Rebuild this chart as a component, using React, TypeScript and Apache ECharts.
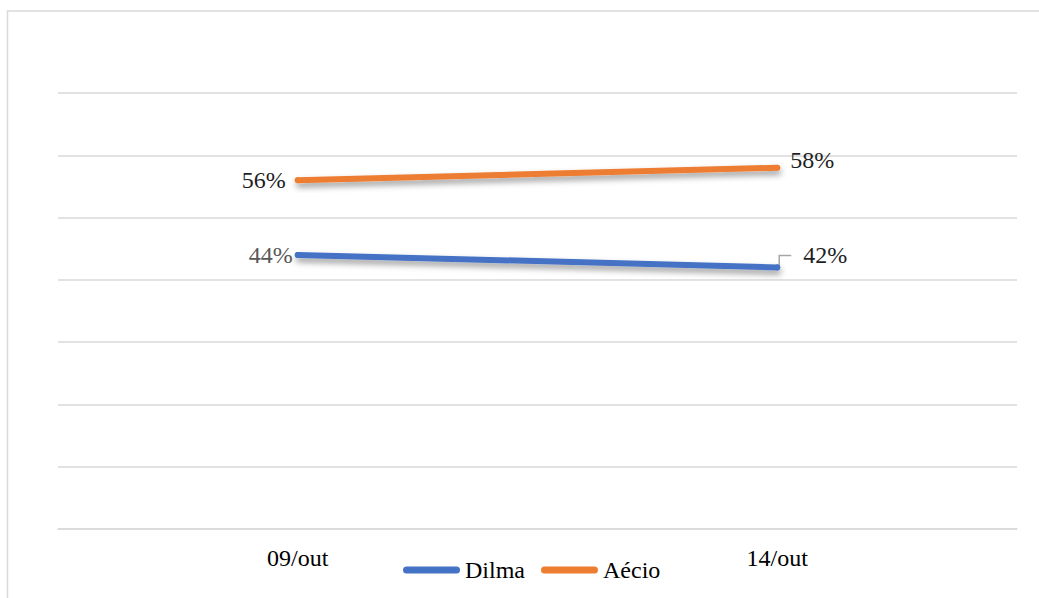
import React, { useEffect, useRef } from 'react';
import * as echarts from 'echarts';

const categories = ['09/out', '14/out'];
const seriesNames = ['Dilma', 'Aécio'];
const dilma = [0.44, 0.42];
const aecio = [0.56, 0.58];
const yMin = 0;
const yMax = 0.7;
const yInterval = 0.1;

const FONT = 'Liberation Serif';

export default function App() {
  const ref = useRef<HTMLDivElement>(null);
  useEffect(() => {
    const chart = echarts.init(ref.current as HTMLDivElement, null, { renderer: 'svg' });
    const pct = (p: any) => Math.round(p.value * 100) + '%';
    const shadow = {
      shadowColor: 'rgba(0,0,0,0.4)',
      shadowBlur: 6,
      shadowOffsetX: 1,
      shadowOffsetY: 4,
    };
    const legendText = { color: '#000000', fontSize: 24, fontFamily: FONT };
    chart.setOption({
      animation: false,
      backgroundColor: '#ffffff',
      textStyle: { fontFamily: FONT },
      grid: { left: 58, right: 22, top: 93, bottom: 69, containLabel: false },
      xAxis: {
        type: 'category',
        data: categories,
        boundaryGap: true,
        axisLine: { show: true, lineStyle: { color: '#d9d9d9', width: 1.5 } },
        axisTick: { show: false },
        axisLabel: { color: '#000000', fontSize: 24, fontFamily: FONT, margin: 17 },
        splitLine: { show: false },
      },
      yAxis: {
        type: 'value',
        min: yMin,
        max: yMax,
        interval: yInterval,
        axisLine: { show: false },
        axisTick: { show: false },
        axisLabel: { show: false },
        splitLine: { show: true, lineStyle: { color: '#d9d9d9', width: 1.5 } },
      },
      legend: {
        show: true,
        left: 403,
        top: 558,
        padding: 0,
        itemWidth: 57,
        itemHeight: 7,
        itemGap: 16,
        icon: 'path://M3.5,0 H53.5 A3.5,3.5 0 0 1 53.5,7 H3.5 A3.5,3.5 0 0 1 3.5,0 Z',
        textStyle: legendText,
      },
      series: [
        {
          name: seriesNames[0],
          type: 'line',
          data: [
            { value: dilma[0], label: { position: 'left', distance: 2, color: '#595959' } },
            { value: dilma[1], label: { position: 'right', distance: 23, offset: [0, -12] } },
          ],
          symbol: 'circle',
          symbolSize: 6,
          showSymbol: true,
          color: '#4472C4',
          itemStyle: { color: '#4472C4' },
          lineStyle: { width: 6, cap: 'round', color: '#4472C4', ...shadow },
          label: { show: true, formatter: pct, fontSize: 24, fontFamily: FONT, color: '#1f1f1f' },
          z: 3,
        },
        {
          name: seriesNames[1],
          type: 'line',
          data: [
            { value: aecio[0], label: { position: 'left', distance: 9 } },
            { value: aecio[1], label: { position: 'right', distance: 10, offset: [0, -8] } },
          ],
          symbol: 'circle',
          symbolSize: 6,
          showSymbol: true,
          color: '#ED7D31',
          itemStyle: { color: '#ED7D31' },
          lineStyle: { width: 6, cap: 'round', color: '#ED7D31', ...shadow },
          label: { show: true, formatter: pct, fontSize: 24, fontFamily: FONT, color: '#1f1f1f' },
          z: 3,
        },
      ],
    });
    const p = chart.convertToPixel({ seriesIndex: 0 }, [1, dilma[1]]) as number[];
    chart.setOption({
      graphic: [
        {
          type: 'rect',
          silent: true,
          shape: { x: 7.5, y: 11, width: 1200, height: 800 },
          style: { fill: 'none', stroke: '#d9d9d9', lineWidth: 1.5 },
        },
        {
          type: 'polyline',
          silent: true,
          shape: {
            points: [
              [p[0] + 2, p[1] - 1],
              [p[0] + 2, p[1] - 12],
              [p[0] + 14, p[1] - 12],
            ],
          },
          style: { fill: 'none', stroke: '#a6a6a6', lineWidth: 1.5 },
        },
      ],
    });
    return () => chart.dispose();
  }, []);
  return (
    <div
      ref={ref}
      style={{ position: 'absolute', left: 0, top: 0, width: 1039, height: 598 }}
    />
  );
}
